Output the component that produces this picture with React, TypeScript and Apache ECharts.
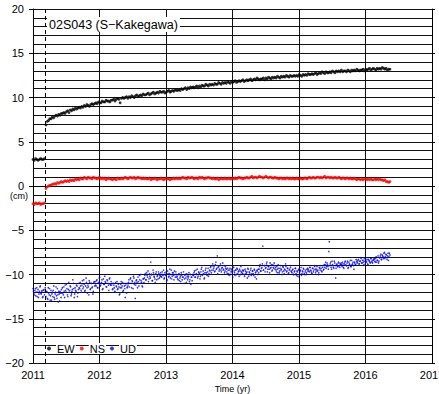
import React, { useEffect, useRef } from "react";
import * as echarts from "echarts";

// GNSS daily coordinate changes, station 02S043 (S-Kakegawa), in cm.
const STATION = "02S043 (S\u2212Kakegawa)";
const SERIES_NAMES = ["EW", "NS", "UD"];
const X_TICKS = [2011, 2012, 2013, 2014, 2015, 2016, 2017];
const Y_TICKS = [-20, -15, -10, -5, 0, 5, 10, 15, 20];
const QUAKE_TIME = 2011.19;

// sampling: weekly for EW / NS; UD in two interleaved 5-day sets
const PRE_START = 2011.0;
const POST_START = 2011.195;
const WEEK = 1 / 52;
const FIVE_DAYS = 1 / 73;
const HALF_STEP = FIVE_DAYS / 2;

const EW_PRE = [3.0, 2.9, 3.1, 3.0, 2.9, 3.0, 3.1, 3.0, 3.0, 3.1];
const EW_POST = [
  6.9, 7.3, 7.4, 7.6, 7.6, 7.8, 7.7, 7.9, 8.0, 7.9, 8.1, 8.0, 8.2,
  8.2, 8.3, 8.2, 8.4, 8.5, 8.3, 8.6, 8.5, 8.7, 8.6, 8.8, 8.7, 8.8,
  8.9, 8.8, 9.0, 8.9, 9.1, 9.0, 9.2, 9.1, 9.0, 9.2, 9.3, 9.2, 9.3,
  9.4, 9.3, 9.5, 9.4, 9.4, 9.6, 9.5, 9.5, 9.7, 9.6, 9.6, 9.5, 9.7,
  9.7, 9.8, 9.6, 9.8, 9.9, 9.8, 9.4, 9.9, 10.0, 9.9, 10.0, 10.1, 9.9,
  10.1, 10.0, 10.2, 10.1, 10.0, 10.2, 10.3, 10.1, 10.2, 10.3, 10.2, 10.4, 10.3,
  10.3, 10.4, 10.5, 10.3, 10.4, 10.5, 10.6, 10.4, 10.5, 10.6, 10.5, 10.7, 10.6,
  10.6, 10.7, 10.5, 10.6, 10.7, 10.8, 10.6, 10.7, 10.8, 10.7, 10.9, 10.8, 10.8,
  10.9, 10.8, 11.0, 10.9, 11.0, 11.1, 10.9, 11.1, 11.0, 11.2, 11.1, 11.2, 11.1,
  11.2, 11.3, 11.1, 11.3, 11.2, 11.4, 11.3, 11.3, 11.5, 11.4, 11.3, 11.5, 11.4,
  11.5, 11.4, 11.6, 11.5, 11.5, 11.7, 11.6, 11.5, 11.7, 11.6, 11.7, 11.6, 11.8,
  11.7, 11.6, 11.8, 11.7, 11.8, 11.9, 11.7, 11.8, 11.9, 11.8, 11.9, 12.0, 11.8,
  11.9, 12.0, 11.9, 12.0, 12.1, 11.9, 12.0, 12.1, 12.0, 12.2, 12.1, 12.0, 12.1,
  12.1, 12.2, 12.0, 12.2, 12.1, 12.3, 12.2, 12.1, 12.3, 12.2, 12.3, 12.2, 12.4,
  12.3, 12.2, 12.4, 12.3, 12.4, 12.3, 12.5, 12.4, 12.3, 12.5, 12.4, 12.4, 12.5,
  12.4, 12.5, 12.4, 12.6, 12.5, 12.4, 12.6, 12.5, 12.6, 12.5, 12.7, 12.6, 12.6,
  12.7, 12.6, 12.7, 12.8, 12.6, 12.7, 12.8, 12.7, 12.9, 12.8, 12.7, 12.9, 12.8,
  12.8, 12.9, 12.8, 13.0, 12.9, 12.8, 13.0, 12.9, 13.0, 12.9, 13.1, 12.9, 13.0,
  13.0, 12.9, 13.1, 13.0, 12.9, 13.1, 13.0, 13.1, 13.0, 13.2, 13.1, 13.0, 13.1,
  13.1, 13.2, 13.0, 13.2, 13.1, 13.2, 13.3, 13.1, 13.2, 13.3, 13.2, 13.1, 13.3,
  13.2, 13.3, 13.2, 13.4, 13.3, 13.2, 13.3, 13.1, 13.2, 13.2,
];

const NS_PRE = [-2.0, -2.1, -1.9, -2.0, -2.0, -1.9, -2.1, -2.0, -2.0, -1.9];
const NS_POST = [
  -0.3, -0.1, 0.0, 0.1, 0.1, 0.2, 0.2, 0.3, 0.2, 0.4, 0.3, 0.4, 0.5,
  0.4, 0.5, 0.6, 0.5, 0.6, 0.5, 0.7, 0.6, 0.7, 0.6, 0.8, 0.7, 0.8,
  0.7, 0.9, 0.8, 0.8, 1.0, 0.9, 0.8, 1.0, 0.9, 0.9, 0.8, 1.0, 0.9,
  0.9, 0.8, 0.9, 1.0, 0.8, 0.9, 0.8, 0.9, 0.7, 0.8, 0.9, 0.8, 0.8,
  0.7, 0.8, 0.8, 0.7, 0.9, 0.8, 0.8, 0.9, 0.8, 0.9, 1.0, 0.9, 0.8,
  0.9, 1.0, 0.9, 0.9, 1.0, 0.8, 0.9, 1.0, 0.9, 0.9, 0.8, 0.9, 0.8,
  0.9, 0.8, 0.8, 0.9, 0.7, 0.8, 0.8, 0.9, 0.8, 0.7, 0.8, 0.8, 0.9,
  0.8, 0.7, 0.8, 0.9, 0.8, 0.8, 0.7, 0.8, 0.8, 0.9, 0.8, 0.9, 0.8,
  0.9, 0.8, 0.9, 1.0, 0.9, 0.9, 0.8, 1.0, 0.9, 0.9, 1.0, 0.9, 0.8,
  0.9, 0.9, 0.8, 1.0, 0.9, 1.0, 0.9, 0.8, 0.9, 0.9, 1.0, 0.9, 0.9,
  0.8, 0.9, 0.8, 0.8, 0.9, 0.7, 0.8, 0.9, 0.8, 0.8, 0.9, 0.8, 0.8,
  0.9, 0.8, 0.8, 0.9, 0.8, 0.9, 0.8, 0.9, 1.0, 0.9, 0.9, 0.8, 0.9,
  0.9, 1.0, 0.9, 0.9, 1.0, 1.1, 0.9, 1.0, 1.0, 0.9, 1.0, 1.1, 1.0,
  1.0, 0.9, 1.0, 1.1, 1.0, 0.9, 1.0, 1.0, 0.9, 0.9, 1.0, 0.9, 0.9,
  0.8, 0.9, 0.9, 0.8, 0.9, 0.8, 0.9, 0.9, 0.8, 0.9, 0.8, 0.9, 0.8,
  0.8, 0.9, 0.8, 0.8, 0.9, 0.8, 0.8, 0.9, 0.9, 0.8, 0.9, 1.0, 0.9,
  0.9, 1.0, 0.9, 0.9, 1.0, 1.0, 0.9, 1.0, 0.9, 1.0, 1.1, 0.9, 1.0,
  1.0, 0.9, 1.0, 0.9, 0.9, 1.0, 0.9, 0.9, 1.0, 0.9, 0.8, 0.9, 0.9,
  0.8, 0.9, 0.9, 0.8, 0.9, 0.8, 0.8, 0.9, 0.8, 0.7, 0.8, 0.8, 0.7,
  0.8, 0.7, 0.8, 0.8, 0.7, 0.8, 0.7, 0.8, 0.7, 0.7, 0.8, 0.7, 0.8,
  0.7, 0.8, 0.7, 0.7, 0.6, 0.7, 0.5, 0.5, 0.4, 0.5,
];

const UD_PRE_A = [-11.6, -12.1, -11.8, -12.4, -11.5, -12.0, -12.6, -11.9, -11.3, -12.2, -11.8, -12.5, -11.7, -12.0];
const UD_PRE_B = [-11.9, -12.3, -11.6, -12.0, -12.5, -11.7, -12.2, -11.4, -12.1, -11.9, -12.6, -11.8, -12.3, -11.5];
const UD_POST_A = [
  -12.5, -11.9, -12.8, -12.1, -11.6, -12.4, -12.9, -12.0, -11.8, -12.6, -12.2, -11.4, -12.7, -12.3, -11.9, -13.0, -12.1, -11.7,
  -11.5, -12.3, -11.9, -11.2, -12.0, -11.6, -12.5, -10.9, -11.8, -11.4, -12.2, -11.7, -11.0, -12.6, -11.5, -11.9, -11.3, -12.1,
  -11.0, -11.6, -11.3, -12.0, -10.7, -11.4, -11.1, -11.8, -10.4, -11.5, -11.2, -12.3, -10.9, -11.6, -11.0, -11.4, -11.9, -10.8,
  -10.8, -11.3, -10.6, -11.5, -11.0, -10.3, -11.2, -10.9, -11.7, -10.5, -11.1, -10.8, -11.4, -10.6, -11.0, -11.8, -10.4, -11.2,
  -11.2, -11.7, -11.0, -11.5, -12.0, -11.3, -10.8, -11.6, -11.4, -12.2, -11.1, -11.5, -10.9, -11.8, -11.3, -12.6, -11.0, -11.5,
  -11.2, -10.6, -11.0, -10.4, -11.5, -10.8, -10.2, -11.1, -12.7, -10.7, -10.9, -10.3, -11.3, -10.6, -10.0, -10.9, -11.4, -10.5,
  -10.4, -9.9, -10.6, -10.1, -9.6, -10.5, -10.2, -8.6, -10.0, -10.7, -9.8, -10.3, -10.9, -9.7, -10.2, -10.5, -9.9, -10.1,
  -9.8, -10.3, -10.0, -9.5, -10.4, -10.1, -9.7, -10.6, -9.9, -10.2, -9.4, -10.0, -10.5, -9.8, -10.1, -9.6, -10.3, -10.0,
  -10.2, -10.6, -9.9, -10.4, -10.8, -10.1, -10.3, -9.7, -10.5, -10.0, -10.9, -10.2, -10.4, -9.8, -10.6, -11.1, -10.3, -10.0,
  -10.1, -9.6, -10.3, -9.9, -9.4, -10.2, -9.8, -10.5, -9.7, -9.2, -10.0, -9.9, -10.4, -9.5, -9.8, -10.1, -9.3, -9.9,
  -9.6, -9.1, -9.5, -8.8, -9.3, -9.7, -8.9, -9.4, -7.9, -9.2, -9.6, -9.0, -9.5, -9.3, -8.7, -9.4, -9.8, -9.1,
  -9.4, -9.9, -9.5, -10.1, -9.3, -9.7, -9.6, -10.3, -9.2, -9.8, -9.5, -10.0, -9.4, -9.7, -10.2, -9.6, -9.1, -9.8,
  -9.9, -9.5, -10.2, -9.6, -9.8, -10.4, -9.4, -9.7, -10.0, -9.3, -9.9, -9.6, -10.1, -9.5, -9.8, -10.5, -9.6, -9.4,
  -9.4, -8.9, -9.6, -9.2, -6.8, -9.5, -9.0, -9.3, -8.8, -9.7, -9.1, -9.4, -8.7, -9.2, -9.6, -8.9, -9.3, -9.0,
  -9.2, -9.7, -9.4, -8.9, -9.8, -9.3, -9.5, -10.0, -9.1, -9.6, -9.4, -8.8, -9.7, -9.3, -9.9, -9.5, -9.0, -9.6,
  -9.8, -9.4, -10.0, -9.6, -9.3, -10.1, -9.7, -9.5, -10.3, -9.6, -9.2, -9.9, -9.7, -9.4, -10.0, -9.5, -9.8, -9.3,
  -9.4, -9.7, -9.2, -9.6, -9.9, -9.3, -9.5, -9.1, -9.8, -9.4, -9.6, -10.0, -9.2, -9.5, -9.3, -9.7, -9.0, -9.4,
  -9.2, -8.6, -9.1, -8.9, -9.4, -6.3, -8.8, -9.2, -8.5, -9.0, -9.3, -8.7, -10.4, -8.9, -9.1, -8.6, -9.0, -8.8,
  -8.7, -9.1, -8.8, -9.3, -8.6, -8.9, -9.0, -8.5, -9.2, -8.8, -8.4, -9.1, -8.9, -8.6, -9.4, -8.7, -8.9, -8.5,
  -8.6, -8.3, -8.8, -8.5, -8.2, -8.7, -8.4, -8.9, -8.5, -8.1, -8.6, -8.8, -8.3, -8.5, -8.7, -8.2, -8.6, -8.4,
  -8.3, -8.5, -8.2, -8.6, -8.4, -8.7, -8.1, -7.9, -8.3, -7.8, -8.0, -7.6, -8.2, -7.7, -8.1, -7.9, -8.4, -7.6,
];
const UD_POST_B = [
  -12.0, -12.7, -11.5, -12.3, -12.9, -11.8, -12.2, -12.5, -11.3, -12.8, -12.0, -12.4, -11.6, -13.1, -12.2, -11.9, -12.6, -12.1,
  -12.1, -11.4, -12.6, -11.8, -11.1, -12.3, -11.7, -12.0, -11.3, -12.4, -11.9, -10.6, -11.6, -12.2, -11.8, -11.2, -12.5, -11.7,
  -11.5, -10.9, -11.8, -11.2, -11.6, -10.6, -11.9, -11.3, -10.9, -12.1, -11.4, -10.7, -11.7, -11.0, -11.5, -12.2, -10.9, -11.3,
  -11.2, -10.7, -11.5, -10.9, -10.4, -11.3, -11.0, -10.6, -11.6, -11.1, -10.2, -10.9, -11.4, -10.7, -11.2, -10.5, -11.1, -10.8,
  -11.0, -11.6, -11.2, -11.9, -10.9, -11.4, -11.7, -11.1, -12.3, -11.5, -10.8, -11.3, -11.9, -11.0, -11.6, -11.2, -12.1, -11.4,
  -10.9, -11.4, -10.5, -11.0, -10.7, -11.6, -10.4, -10.9, -11.2, -10.6, -11.5, -10.8, -10.1, -11.0, -10.7, -11.3, -10.5, -10.9,
  -10.1, -10.6, -9.8, -10.3, -10.8, -9.9, -10.4, -10.0, -10.7, -9.5, -10.2, -10.5, -9.9, -10.6, -10.1, -9.7, -10.4, -10.2,
  -10.2, -9.7, -10.1, -10.5, -9.8, -10.0, -10.7, -9.6, -10.3, -9.9, -10.4, -9.5, -10.2, -9.8, -10.6, -10.0, -9.7, -10.3,
  -10.5, -10.0, -10.7, -10.2, -9.8, -10.6, -10.3, -11.0, -10.1, -10.4, -9.9, -10.6, -10.2, -10.8, -10.0, -10.3, -10.7, -10.1,
  -9.8, -10.3, -9.5, -10.0, -10.4, -9.7, -9.9, -10.2, -9.4, -10.1, -9.6, -10.5, -9.8, -9.3, -10.0, -9.7, -10.2, -9.5,
  -9.2, -9.8, -9.0, -9.5, -9.1, -9.6, -8.6, -9.3, -9.9, -9.1, -9.4, -8.8, -9.7, -9.2, -9.5, -9.0, -9.6, -9.3,
  -9.7, -9.3, -9.9, -9.5, -10.0, -9.4, -9.8, -9.2, -9.6, -10.1, -9.5, -9.3, -9.9, -9.6, -9.4, -10.0, -9.7, -9.5,
  -9.6, -10.0, -9.4, -9.9, -9.7, -9.3, -10.2, -9.8, -9.5, -10.1, -9.6, -9.9, -9.4, -10.3, -9.7, -9.5, -10.0, -9.8,
  -9.1, -9.6, -9.3, -8.8, -9.5, -9.0, -9.7, -9.2, -8.6, -9.4, -9.1, -9.8, -9.3, -8.9, -9.5, -9.2, -8.7, -9.4,
  -9.5, -9.1, -9.8, -9.3, -9.6, -9.0, -9.4, -9.7, -9.2, -9.9, -9.5, -9.1, -9.6, -9.3, -9.8, -9.4, -9.2, -9.7,
  -9.5, -10.0, -9.7, -9.3, -9.9, -9.6, -10.2, -9.4, -9.8, -9.5, -10.1, -9.6, -9.3, -9.9, -9.7, -10.0, -9.4, -9.6,
  -9.6, -9.2, -9.5, -9.8, -9.3, -9.7, -9.0, -9.4, -9.6, -9.1, -9.5, -9.8, -9.3, -9.0, -9.6, -9.2, -9.5, -8.9,
  -8.9, -9.3, -8.7, -9.1, -7.4, -9.0, -8.6, -9.4, -8.9, -9.2, -8.5, -9.0, -9.3, -8.8, -9.1, -8.7, -9.2, -8.9,
  -8.9, -8.6, -9.2, -8.8, -8.5, -9.0, -8.7, -9.3, -8.6, -8.9, -9.1, -8.4, -8.8, -9.0, -8.6, -8.9, -8.3, -8.7,
  -8.4, -8.8, -8.5, -8.1, -8.7, -8.4, -8.6, -8.2, -8.8, -8.5, -8.3, -8.9, -8.4, -8.6, -8.2, -8.5, -8.7, -8.3,
  -8.2, -8.6, -8.0, -8.4, -7.9, -8.5, -8.1, -7.7, -8.3, -7.9, -8.2, -7.5, -8.0, -7.8, -8.3, -7.6, -8.0, -7.8,
];

const COLORS = ["#000000", "#ff0000", "#0000ff"];
const FONT = "'Liberation Sans', Arial, Helvetica, sans-serif";

function toPoints(values: number[], start: number, step: number): number[][] {
  return values.map((v, i) => [start + i * step, v]);
}

function minusSign(v: number): string {
  return String(v).replace("-", "\u2212");
}

export default function App() {
  const ref = useRef<HTMLDivElement>(null);

  useEffect(() => {
    if (!ref.current) return;
    const chart = echarts.init(ref.current, undefined, { renderer: "svg" });

    const ew = [...toPoints(EW_PRE, PRE_START, WEEK), ...toPoints(EW_POST, POST_START, WEEK)];
    const ns = [...toPoints(NS_PRE, PRE_START, WEEK), ...toPoints(NS_POST, POST_START, WEEK)];
    const ud = [
      ...toPoints(UD_PRE_A, PRE_START, FIVE_DAYS),
      ...toPoints(UD_PRE_B, PRE_START + HALF_STEP, FIVE_DAYS),
      ...toPoints(UD_POST_A, POST_START, FIVE_DAYS),
      ...toPoints(UD_POST_B, POST_START + HALF_STEP, FIVE_DAYS),
    ];

    const xMin = X_TICKS[0];
    const xMax = X_TICKS[X_TICKS.length - 1];
    const yMin = Y_TICKS[0];
    const yMax = Y_TICKS[Y_TICKS.length - 1];

    const option: any = {
      animation: false,
      backgroundColor: "#ffffff",
      textStyle: { fontFamily: FONT },
      grid: { left: 33, right: 7, top: 9, bottom: 31, containLabel: false, outerBoundsMode: "none" },
      title: {
        text: STATION,
        left: 47,
        top: 17,
        padding: [1, 2, 1, 2],
        backgroundColor: "#ffffff",
        textStyle: { fontFamily: FONT, fontSize: 12.5, fontWeight: "normal", color: "#000" },
      },
      legend: {
        data: SERIES_NAMES,
        left: 47,
        top: 343,
        padding: 0,
        itemWidth: 4,
        itemHeight: 4,
        itemGap: 4,
        icon: "circle",
        textStyle: {
          fontFamily: FONT,
          fontSize: 11,
          color: "#000",
          backgroundColor: "#ffffff",
          padding: [0, 1, 0, 1],
        },
      },
      xAxis: [
        {
          type: "value",
          min: xMin,
          max: xMax,
          interval: 1,
          position: "bottom",
          axisLine: { show: true, lineStyle: { color: "#000", width: 1 } },
          axisTick: { show: true, length: 4, lineStyle: { color: "#000" } },
          axisLabel: {
            fontFamily: FONT,
            fontSize: 11,
            color: "#000",
            margin: 6,
            alignMinLabel: "center",
            alignMaxLabel: "center",
            formatter: (v: number) => String(v),
          },
          splitLine: { show: true, lineStyle: { color: "#111", width: 1 } },
          name: "Time (yr)",
          nameLocation: "middle",
          nameGap: 21,
          nameTextStyle: { fontFamily: FONT, fontSize: 9, color: "#000" },
        },
        {
          type: "value",
          min: xMin,
          max: xMax,
          interval: 1,
          position: "top",
          axisLine: { show: true, lineStyle: { color: "#000", width: 1 } },
          axisTick: { show: true, length: 3, lineStyle: { color: "#000" } },
          axisLabel: { show: false },
          splitLine: { show: false },
        },
      ],
      yAxis: [
        {
          type: "value",
          min: yMin,
          max: yMax,
          interval: 5,
          position: "left",
          axisLine: { show: true, lineStyle: { color: "#000", width: 1 } },
          axisTick: { show: true, length: 4, lineStyle: { color: "#000" } },
          axisLabel: { fontFamily: FONT, fontSize: 11, color: "#000", margin: 9, formatter: (v: number) => minusSign(v) },
          splitLine: { show: true, lineStyle: { color: "#111", width: 1 } },
          minorTick: { show: false, splitNumber: 5 },
          minorSplitLine: { show: true, lineStyle: { color: "#111", width: 1 } },
        },
        {
          type: "value",
          min: yMin,
          max: yMax,
          interval: 5,
          position: "right",
          axisLine: { show: true, lineStyle: { color: "#000", width: 1 } },
          axisTick: { show: true, length: 3, lineStyle: { color: "#000" } },
          axisLabel: { show: false },
          splitLine: { show: false },
        },
      ],
      graphic: [
        {
          type: "text",
          left: 10,
          top: 191,
          style: { text: "(cm)", fontFamily: FONT, fontSize: 9, fill: "#000" },
          z: 10,
        },
      ],
      series: [
        {
          name: SERIES_NAMES[0],
          type: "scatter",
          data: ew,
          symbol: "circle",
          symbolSize: 2.8,
          itemStyle: { color: COLORS[0] },
          z: 3,
          markLine: {
            silent: true,
            symbol: ["none", "none"],
            label: { show: false },
            lineStyle: { color: "#000", type: [4, 3], width: 1 },
            data: [{ xAxis: QUAKE_TIME }],
          },
        },
        {
          name: SERIES_NAMES[1],
          type: "scatter",
          data: ns,
          symbol: "circle",
          symbolSize: 2.8,
          itemStyle: { color: COLORS[1] },
          z: 3,
        },
        {
          name: SERIES_NAMES[2],
          type: "scatter",
          data: ud,
          symbol: "circle",
          symbolSize: 1.6,
          itemStyle: { color: COLORS[2] },
          z: 3,
        },
      ],
    };

    chart.setOption(option);
    return () => chart.dispose();
  }, []);

  return <div ref={ref} style={{ width: 439, height: 394, position: "absolute", left: 0, top: 0 }} />;
}
